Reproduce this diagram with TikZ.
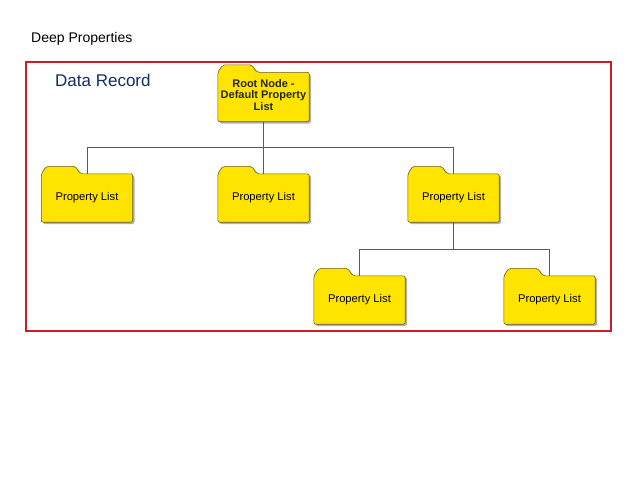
\documentclass[tikz,border=0pt]{standalone}
\usepackage{fontspec}
\setmainfont{Liberation Sans}
\usetikzlibrary{calc}
\pgfdeclarelayer{background}
\pgfsetlayers{background,main}
\definecolor{foldfill}{RGB}{255,228,0}
\definecolor{foldline}{RGB}{105,95,25}
\definecolor{frame}{RGB}{200,30,40}
\definecolor{navy}{RGB}{20,45,100}
\definecolor{conn}{RGB}{90,90,90}
\tikzset{
  fold/.style={minimum width=91pt, minimum height=48pt, inner sep=0pt, align=center,
    font=\fontsize{11.2}{11}\selectfont},
  rootfold/.style={fold, minimum height=49pt},
  roottext/.style={align=center, inner sep=0pt, yshift=2pt, text=black!85,
    font=\fontsize{11}{11.5}\selectfont\bfseries},
  foldshape/.style={fill=foldfill, draw=foldline, line width=0.6pt, rounded corners=2pt},
  foldshadow/.style={fill=black!30, rounded corners=2pt},
  connector/.style={draw=conn, line width=0.8pt},
}
\newcommand\foldpath[1]{(#1.south west) -- (#1.north west) -- ($(#1.north west)+(5pt,7.5pt)$) -- ($(#1.north west)+(34pt,7.5pt)$) -- ($(#1.north west)+(39pt,0pt)$) -- (#1.north east) -- (#1.south east) -- cycle}
\newcommand\mkfolder[4][fold]{%
  \node[#1] (#2) at (#3) {#4};
  \begin{pgfonlayer}{background}
    \begin{scope}[transform canvas={shift={(1.8pt,-1.8pt)}}]
      \fill[foldshadow] \foldpath{#2};
    \end{scope}
    \path[foldshape] \foldpath{#2};
  \end{pgfonlayer}}
\begin{document}
\begin{tikzpicture}[x=1pt,y=-1pt]
\useasboundingbox (0,0) rectangle (640,480);
\begin{pgfonlayer}{background}
\fill[white] (0,0) rectangle (640,480);
\end{pgfonlayer}
\node[anchor=base west, font=\fontsize{14}{14}\selectfont, inner sep=0pt] (title) at (31,42.5) {Deep Properties};
\draw[frame, line width=1.1pt] (26,62) rectangle (611,331);
\node[anchor=base west, font=\fontsize{17}{17}\selectfont, text=navy, inner sep=0pt] (rec) at (55,86) {Data Record};

\mkfolder[rootfold]{r}{263.5,97}{}
\node[roottext] (rt) at (r.center) {Root Node -\\Default Property\\List};
\mkfolder{c1}{87,198}{Property List}
\mkfolder{c2}{263.5,198}{Property List}
\mkfolder{c3}{453.5,198}{Property List}
\mkfolder{g1}{359.5,300}{Property List}
\mkfolder{g2}{549.5,300}{Property List}

\coordinate (bar1) at (0,147);
\coordinate (bar2) at (0,249.5);
\draw[connector] (r.south) -- (r.south |- bar1);
\draw[connector] (c1.north) |- (c3.north |- bar1) -- (c3.north);
\draw[connector] (c2.north) -- (c2.north |- bar1);
\draw[connector] (c3.south) -- (c3.south |- bar2);
\draw[connector] (g1.north) |- (g2.north |- bar2) -- (g2.north);
\end{tikzpicture}
\end{document}
